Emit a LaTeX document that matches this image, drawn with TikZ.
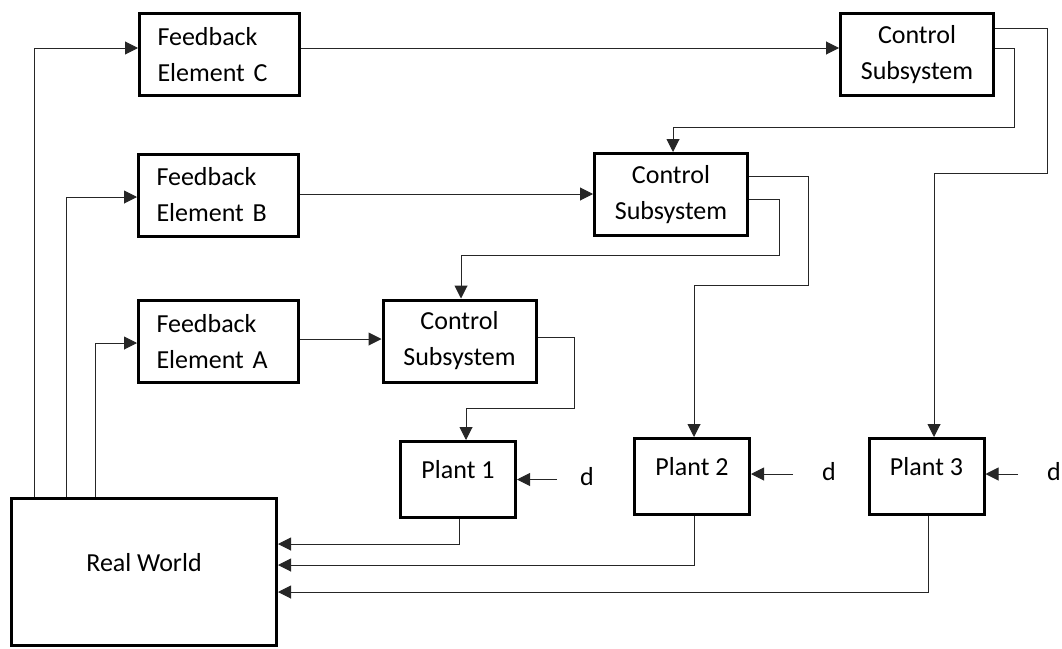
\documentclass[tikz,border=0pt]{standalone}
\usepackage{fontspec}
\setmainfont{Carlito}
\usetikzlibrary{arrows.meta,calc}
\begin{document}
\begin{tikzpicture}[x=1pt,y=-1pt,
  box/.style={draw=black, line width=3pt, font=\fontsize{26}{36}\selectfont, inner sep=0pt},
  fbbox/.style={box, text width=124pt, align=left, inner xsep=18pt, minimum width=160pt, minimum height=82pt},
  csbox/.style={box, align=center, minimum width=153pt, minimum height=82pt},
  plantbox/.style={box, minimum width=115pt, text height=36.5pt, text depth=39.5pt},
  lbl/.style={font=\fontsize{26}{36}\selectfont, inner sep=0pt, anchor=base west},
  conn/.style={draw=black!85, line width=1pt, -{Triangle[length=13pt,width=13pt]}},
]
\useasboundingbox (0,0) rectangle (1062,648);

\node[fbbox] (fbC) at (219.5,54.5) {Feedback\\Element C};
\node[fbbox] (fbB) at (218.5,195) {Feedback\\Element B};
\node[fbbox] (fbA) at (218.5,341.5) {Feedback\\Element A};
\node[csbox] (csC) at (917,54.5) {Control\\Subsystem};
\node[csbox] (csB) at (671,194.5) {Control\\Subsystem};
\node[csbox] (csA) at (459.5,341) {Control\\Subsystem};
\node[plantbox] (p1) at (458,479.5) {Plant 1};
\node[plantbox] (p2) at (692,476.5) {Plant 2};
\node[plantbox] (p3) at (926.5,476.5) {Plant 3};
\node[box, minimum width=265pt, text height=72.5pt, text depth=74.5pt] (rw) at (144,572) {Real World};

\node[lbl] (d1) at (580,485) {d};
\node[lbl] (d2) at (822,480) {d};
\node[lbl] (d3) at (1047,480) {d};

\draw[conn] ([xshift=24pt]rw.north west) |- ([yshift=6.5pt]fbC.west);
\draw[conn] ([xshift=56pt]rw.north west) |- ([yshift=-2pt]fbB.west);
\draw[conn] ([xshift=85pt]rw.north west) |- ([yshift=-1.5pt]fbA.west);

\draw[conn] ([yshift=6.5pt]fbC.east) -- ([yshift=6.5pt]csC.west);
\draw[conn] ([yshift=1pt]fbB.east) -- ([yshift=0.5pt]csB.west);
\draw[conn] ([yshift=2.5pt]fbA.east) -- ([yshift=2pt]csA.west);

\draw[conn] ([yshift=6.5pt]csC.east) -| (1014,127) -| ([xshift=2pt]csB.north);
\draw[conn] ([yshift=26.5pt]csC.east) -| (1047,173) -| ([xshift=7.5pt]p3.north);
\draw[conn] ([yshift=18.5pt]csB.east) -| (808,285) -| ([xshift=2pt]p2.north);
\draw[conn] ([yshift=-4.5pt]csB.east) -| (779,255) -| ([xshift=1.5pt]csA.north);
\draw[conn] ([yshift=4pt]csA.east) -| (574,408) -| ([xshift=8pt]p1.north);

\draw[conn] ([xshift=1pt]p1.south) |- (rw.east |- 0,544);
\draw[conn] ([xshift=2pt]p2.south) |- (rw.east |- 0,565);
\draw[conn] ([xshift=1.5pt]p3.south) |- (rw.east |- 0,592);

\coordinate (p1in) at (p1.east);
\coordinate (p2in) at ([yshift=2.5pt]p2.east);
\coordinate (p3in) at ([yshift=2.5pt]p3.east);
\draw[conn, shorten <=23pt] (p1in -| d1.west) -- (p1in);
\draw[conn, shorten <=29pt] (p2in -| d2.west) -- (p2in);
\draw[conn, shorten <=29pt] (p3in -| d3.west) -- (p3in);
\end{tikzpicture}
\end{document}
